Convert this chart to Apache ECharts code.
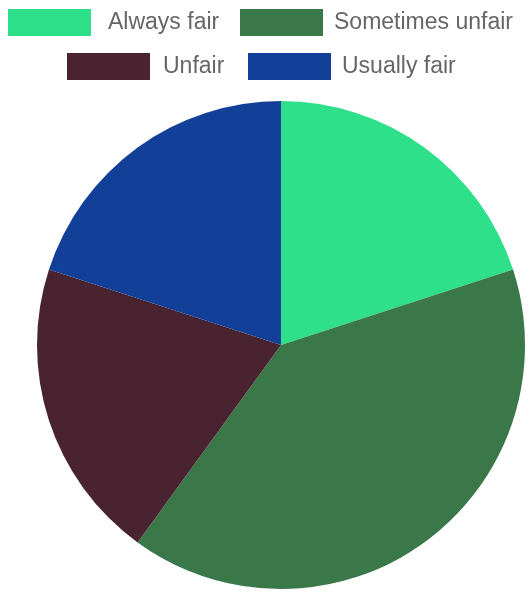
<!DOCTYPE html>
<html>
<head>
<meta charset="utf-8">
<script src="https://cdn.jsdelivr.net/npm/echarts@6/dist/echarts.min.js"></script>
<style>
html,body{margin:0;padding:0;background:#fff;}
#chart{width:532px;height:592px;}
</style>
</head>
<body>
<div id="chart"></div>
<script>
const categories = ['Always fair', 'Sometimes unfair', 'Unfair', 'Usually fair'];
const values = [20, 40, 20, 20];
const colors = ['#2ee08a', '#3a784a', '#4a2331', '#123f98'];

const chart = echarts.init(document.getElementById('chart'), null, {renderer: 'canvas'});

const legendPos = [
  {left: 8, top: 9, pad: 12},
  {left: 240, top: 9, pad: 6},
  {left: 67, top: 53, pad: 8},
  {left: 248, top: 53, pad: 6}
];

const legends = categories.map((name, i) => ({
  data: [name],
  left: legendPos[i].left,
  top: legendPos[i].top,
  padding: 0,
  itemWidth: 83,
  itemHeight: 27,
  icon: 'rect',
  textStyle: {
    fontFamily: 'Liberation Sans, Arial, sans-serif',
    fontSize: 23,
    color: '#666',
    padding: [0, 0, 0, legendPos[i].pad]
  }
}));

chart.setOption({
  animation: false,
  color: colors,
  legend: legends,
  series: [{
    type: 'pie',
    center: [281, 345],
    radius: [0, 244],
    startAngle: 90,
    clockwise: true,
    label: {show: false},
    labelLine: {show: false},
    emphasis: {scale: false},
    data: categories.map((c, i) => ({name: c, value: values[i]}))
  }]
});
</script>
</body>
</html>
